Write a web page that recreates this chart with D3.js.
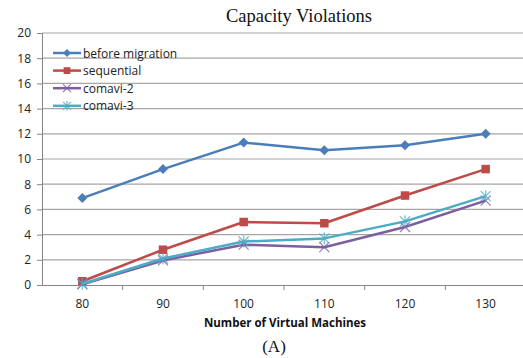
<!DOCTYPE html>
<html>
<head>
<meta charset="utf-8">
<script src="https://cdn.jsdelivr.net/npm/d3@7"></script>
<style>
  html, body { margin: 0; padding: 0; background: #fff; }
  svg { display: block; }
</style>
</head>
<body>
<svg id="chart" width="523" height="358"></svg>
<script>
// Number of virtual machines on the x axis
const categories = ["80", "90", "100", "110", "120", "130"];
const yTicks = [0, 2, 4, 6, 8, 10, 12, 14, 16, 18, 20];

const beforeMigration = [6.9, 9.2, 11.3, 10.7, 11.1, 12.0];
const sequential      = [0.3, 2.8, 5.0, 4.9, 7.1, 9.2];
const comavi2         = [0.05, 1.95, 3.2, 3.0, 4.6, 6.7];
const comavi3         = [0.1, 2.1, 3.45, 3.7, 5.05, 7.05];

const seriesNames = ["before migration", "sequential", "comavi-2", "comavi-3"];
const seriesColors = ["#4a7ebb", "#be4b48", "#7d5fa0", "#4bacc6"];
const seriesMarkers = ["diamond", "square", "cross", "star"];

const series = [beforeMigration, sequential, comavi2, comavi3].map((values, i) => ({
  name: seriesNames[i], values, color: seriesColors[i], marker: seriesMarkers[i]
}));

const svg = d3.select("#chart");
const plotLeft = 42, plotRight = 526, plotTop = 33, plotBottom = 285;

const x = d3.scaleBand().domain(categories).range([plotLeft, plotRight]);
const y = d3.scaleLinear().domain([0, 20]).range([plotBottom, plotTop]);

const labelFont = "'Open Sans', 'Liberation Sans', sans-serif";

// Horizontal gridlines
svg.append("g")
  .selectAll("line")
  .data(yTicks.filter(d => d > 0))
  .join("line")
  .attr("x1", plotLeft).attr("x2", plotRight)
  .attr("y1", d => y(d)).attr("y2", d => y(d))
  .attr("stroke", "#a6a6a6").attr("stroke-width", 1.2);

// Y axis
const yAxis = svg.append("g")
  .attr("transform", `translate(${plotLeft},0)`)
  .call(d3.axisLeft(y).tickValues(yTicks).tickSize(5).tickPadding(6));
yAxis.select(".domain").attr("stroke", "#868686");
yAxis.selectAll(".tick line").attr("stroke", "#868686");
yAxis.selectAll("text")
  .attr("font-family", labelFont).attr("font-size", 12).attr("fill", "#222");

// X axis
const xAxis = svg.append("g")
  .attr("transform", `translate(0,${plotBottom})`)
  .call(d3.axisBottom(x).tickSize(0).tickPadding(14));
xAxis.select(".domain").attr("stroke", "#868686");
xAxis.selectAll("text")
  .attr("font-family", labelFont).attr("font-size", 12).attr("fill", "#222");
// Tick marks sit between categories
svg.append("g")
  .selectAll("line")
  .data(categories.slice(1))
  .join("line")
  .attr("x1", d => x(d)).attr("x2", d => x(d))
  .attr("y1", plotBottom).attr("y2", plotBottom + 5)
  .attr("stroke", "#868686");

const cx = d => x(d) + x.bandwidth() / 2;

function drawMarker(g, type, color, px, py, s) {
  if (type === "diamond") {
    g.append("path")
      .attr("d", `M${px},${py - s}L${px + s},${py}L${px},${py + s}L${px - s},${py}Z`)
      .attr("fill", color);
  } else if (type === "square") {
    g.append("rect")
      .attr("x", px - s * 0.85).attr("y", py - s * 0.85)
      .attr("width", s * 1.7).attr("height", s * 1.7)
      .attr("fill", color);
  } else if (type === "cross") {
    g.append("path")
      .attr("d", `M${px - s},${py - s}L${px + s},${py + s}M${px - s},${py + s}L${px + s},${py - s}`)
      .attr("stroke", color).attr("stroke-width", 1.2).attr("opacity", 0.8);
  } else {
    g.append("path")
      .attr("d", `M${px - s},${py - s}L${px + s},${py + s}M${px - s},${py + s}L${px + s},${py - s}M${px},${py - s * 1.2}L${px},${py + s * 1.2}`)
      .attr("stroke", color).attr("stroke-width", 1.2).attr("opacity", 0.8);
  }
}

const line = d3.line().x((d, i) => cx(categories[i])).y(d => y(d));

series.forEach(s => {
  const g = svg.append("g");
  g.append("path")
    .attr("d", line(s.values))
    .attr("fill", "none")
    .attr("stroke", s.color)
    .attr("stroke-width", 2.5)
    .attr("stroke-linejoin", "round");
  s.values.forEach((v, i) => drawMarker(g, s.marker, s.color, cx(categories[i]), y(v), 5));
});

// Legend
const legend = svg.append("g");
series.forEach((s, i) => {
  const ly = 53 + i * 17.6;
  const lg = legend.append("g");
  lg.append("line")
    .attr("x1", 53).attr("x2", 81).attr("y1", ly).attr("y2", ly)
    .attr("stroke", s.color).attr("stroke-width", 2.5);
  drawMarker(lg, s.marker, s.color, 67, ly, 4);
  lg.append("text")
    .attr("x", 83).attr("y", ly + 4.5)
    .attr("font-family", labelFont).attr("font-size", 12).attr("fill", "#222")
    .text(s.name);
});

// Title
svg.append("text")
  .attr("x", 299).attr("y", 22)
  .attr("text-anchor", "middle")
  .attr("font-family", "'Liberation Serif', 'DejaVu Serif', serif")
  .attr("font-size", 18.5).attr("fill", "#111")
  .text("Capacity Violations");

// X axis title
svg.append("text")
  .attr("x", 285).attr("y", 327)
  .attr("text-anchor", "middle")
  .attr("font-family", labelFont).attr("font-size", 11.5).attr("font-weight", "bold").attr("fill", "#111")
  .text("Number of Virtual Machines");

// Caption
svg.append("text")
  .attr("x", 274).attr("y", 352)
  .attr("text-anchor", "middle")
  .attr("font-family", "'Liberation Serif', 'DejaVu Serif', serif")
  .attr("font-size", 17).attr("fill", "#111")
  .text("(A)");
</script>
</body>
</html>
